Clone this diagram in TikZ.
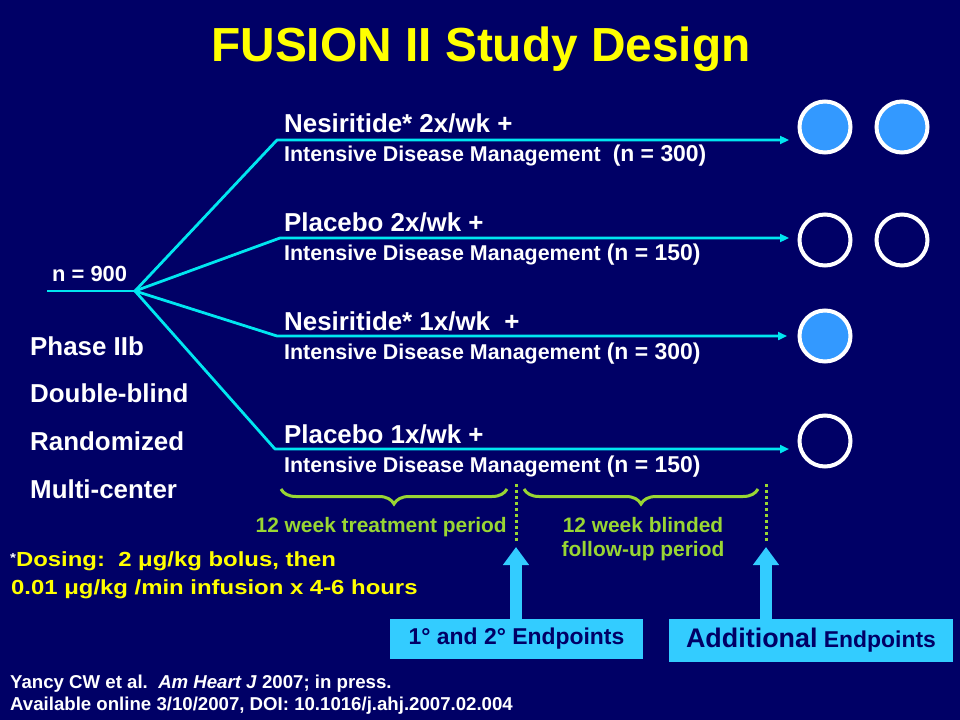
\documentclass[tikz,border=0pt]{standalone}
\usepackage{fontspec}
\setmainfont{Liberation Sans}
\newfontfamily\widefont[FakeStretch=1.17]{Liberation Sans}
\usetikzlibrary{arrows.meta,decorations.pathreplacing}
\definecolor{bg}{RGB}{0,0,102}
\definecolor{cyanline}{RGB}{0,230,240}
\definecolor{ttlyellow}{RGB}{255,255,0}
\definecolor{circfill}{RGB}{51,153,255}
\definecolor{boxblue}{RGB}{51,204,255}
\definecolor{periodgreen}{RGB}{153,214,51}
\newcommand\fsz[1]{\fontsize{#1}{#1}\selectfont}
\tikzset{
  branch/.style={cyanline, line width=2.8bp, line join=round},
  armtip/.style={-{Triangle[length=9bp,width=8bp]}},
  txt/.style={inner sep=0pt, anchor=base west, text=white, font=\bfseries},
  rowtitle/.style={txt, font=\bfseries\fsz{26}},
  rowsub/.style={txt, font=\bfseries\fsz{21.5}},
  sidelabel/.style={txt, font=\bfseries\fsz{26}},
  circ/.style={circle, draw=white, line width=4bp, minimum size=51bp, inner sep=0pt},
  period/.style={periodgreen, line width=3bp},
  dotsep/.style={periodgreen, line width=3bp, dash pattern=on 3bp off 3bp},
  uparrow/.style={boxblue, line width=12bp, -{Triangle[length=18bp,width=25bp]}},
  endbox/.style={fill=boxblue, inner sep=0pt, text=bg, font=\bfseries\fsz{23}},
  greentxt/.style={inner sep=0pt, text=periodgreen, font=\bfseries\fsz{21}},
}
\begin{document}
\begin{tikzpicture}[x=1bp,y=-1bp]
\fill[bg] (0,0) rectangle (960,720);
\useasboundingbox (0,0) rectangle (960,720);

% title
\node[inner sep=0pt, anchor=base, text=ttlyellow, font=\bfseries\fsz{48}] (title) at (481,62) {FUSION II Study Design};

% branch coordinates
\coordinate (root) at (47,291);
\coordinate (hub) at (135,291);
\coordinate (k1) at (277,140);
\coordinate (k2) at (280,238);
\coordinate (k3) at (277,336);
\coordinate (k4) at (275,449);
\coordinate (e1) at (789,140);
\coordinate (e2) at (789,238);
\coordinate (e3) at (787,336);
\coordinate (e4) at (789,449);

\draw[branch] (root) -- (hub);
\draw[branch,armtip] (hub) -- (k1) -- (e1);
\draw[branch,armtip] (hub) -- (k2) -- (e2);
\draw[branch,armtip] (hub) -- (k3) -- (e3);
\draw[branch,armtip] (hub) -- (k4) -- (e4);

\node[txt, font=\bfseries\fsz{22}] (n900) at (52,281) {n = 900};

% arm texts
\node[rowtitle] (t1) at (284,133) {Nesiritide* 2x/wk +};
\node[rowsub] (s1) at (284,162) {Intensive Disease Management\ \ {\fsz{23}(n = 300)}};
\node[rowtitle] (t2) at (284,231) {Placebo 2x/wk +};
\node[rowsub] (s2) at (284,260) {Intensive Disease Management {\fsz{23}(n = 150)}};
\node[rowtitle] (t3) at (284,330) {Nesiritide* 1x/wk\ \ +};
\node[rowsub] (s3) at (284,359) {Intensive Disease Management {\fsz{23}(n = 300)}};
\node[rowtitle] (t4) at (284,443) {Placebo 1x/wk +};
\node[rowsub] (s4) at (284,472) {Intensive Disease Management {\fsz{23}(n = 150)}};

% circles
\node[circ, fill=circfill] (c1a) at (825,127) {};
\node[circ, fill=circfill] (c1b) at (902,127) {};
\node[circ] (c2a) at (825,240) {};
\node[circ] (c2b) at (902,240) {};
\node[circ, fill=circfill] (c3a) at (825,336) {};
\node[circ] (c4a) at (825,441) {};

% side labels
\node[sidelabel] (l1) at (30,355) {Phase IIb};
\node[sidelabel] (l2) at (30,402) {Double-blind};
\node[sidelabel] (l3) at (30,450) {Randomized};
\node[sidelabel] (l4) at (30,498) {Multi-center};

% periods
\draw[period, decorate, decoration={brace, amplitude=15bp, mirror}] (281,489) -- (507,489);
\draw[period, decorate, decoration={brace, amplitude=15bp, mirror}] (524,489) -- (758,489);
\coordinate (d1top) at (516,484);
\coordinate (d1bot) at (516,542);
\coordinate (d2top) at (766,484);
\coordinate (d2bot) at (766,542);
\draw[dotsep] (d1top) -- (d1bot);
\draw[dotsep] (d2top) -- (d2bot);
\node[greentxt, anchor=base east] (p1) at (507,532) {12 week treatment period};
\node[greentxt, anchor=base] (p2a) at (643,532) {12 week blinded};
\node[greentxt, anchor=base] (p2b) at (643,556) {follow-up period};

% dosing
\node[txt, text=ttlyellow, font=\bfseries\widefont\fsz{20.5}] (dose1) at (10,566) {{\color{white}\fsz{13}\raisebox{4bp}{*}}Dosing:\ \ 2 μg/kg bolus, then};
\node[txt, text=ttlyellow, font=\bfseries\widefont\fsz{20.5}] (dose2) at (11,594) {0.01 μg/kg /min infusion x 4-6 hours};

% endpoint boxes
\node[endbox, minimum width=253bp, minimum height=40bp] (b1) at (516.5,639) {1° and 2° Endpoints};
\node[endbox, minimum width=284bp, minimum height=43bp] (b2) at (811,640.5) {{\fsz{27}Additional} Endpoints};
\coordinate (a1) at (516,547);
\coordinate (a2) at (766,547);
\draw[uparrow] (b1.north -| a1) -- (a1);
\draw[uparrow] (b2.north -| a2) -- (a2);

% reference
\node[txt, font=\bfseries\fsz{18.7}] (ref1) at (10,688) {Yancy CW et al.\ \ \textit{Am Heart J} 2007; in press.};
\node[txt, font=\bfseries\fsz{18.7}] (ref2) at (10,710) {Available online 3/10/2007, DOI: 10.1016/j.ahj.2007.02.004};
\end{tikzpicture}
\end{document}
